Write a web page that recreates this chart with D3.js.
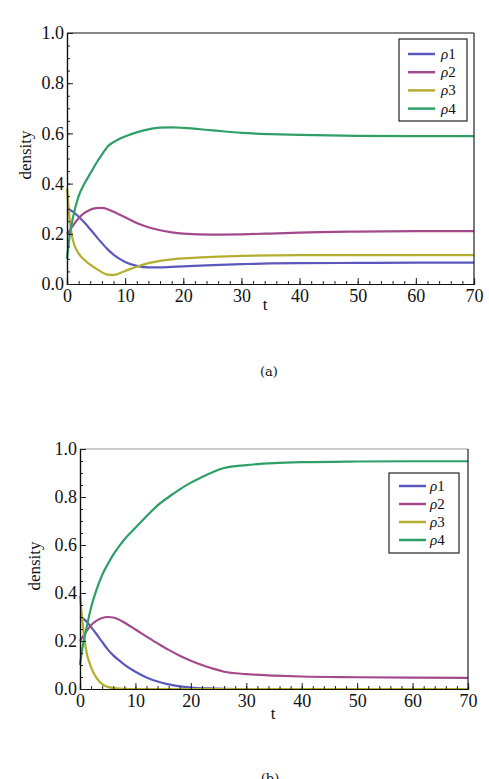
<!DOCTYPE html>
<html>
<head>
<meta charset="utf-8">
<script src="https://cdn.jsdelivr.net/npm/d3@7"></script>
<style>
  body { margin: 0; background: #fff; }
  svg { display: block; }
  text { font-family: "Liberation Serif", "DejaVu Serif", serif; fill: #111; }
</style>
</head>
<body>
<svg id="main" width="489" height="779"></svg>
<script>
// ---- data ----
var seriesNames = ["ρ1", "ρ2", "ρ3", "ρ4"];
var seriesColors = ["#5a58bc", "#a24a8c", "#b3ae30", "#2f9f68"];
var xTicks = [0, 10, 20, 30, 40, 50, 60, 70];
var yTicks = [0, 0.2, 0.4, 0.6, 0.8, 1.0];

// panel (a)
var tA = [0, 0.5, 1, 2, 3, 4, 5, 6, 7, 8, 10, 12, 14, 16, 18, 20, 25, 30, 35, 40, 50, 60, 70];
var rho1A = [0.30, 0.295, 0.288, 0.268, 0.245, 0.218, 0.19, 0.163, 0.138, 0.117, 0.088, 0.072, 0.066, 0.066, 0.068, 0.07, 0.075, 0.079, 0.082, 0.083, 0.084, 0.085, 0.085];
var rho2A = [0.20, 0.215, 0.232, 0.262, 0.283, 0.296, 0.302, 0.303, 0.298, 0.288, 0.266, 0.243, 0.226, 0.214, 0.206, 0.201, 0.197, 0.198, 0.201, 0.205, 0.209, 0.211, 0.211];
var rho3A = [0.38, 0.25, 0.175, 0.122, 0.096, 0.077, 0.061, 0.047, 0.037, 0.036, 0.052, 0.069, 0.083, 0.092, 0.098, 0.102, 0.108, 0.112, 0.114, 0.115, 0.115, 0.115, 0.115];
var rho4A = [0.10, 0.20, 0.262, 0.35, 0.40, 0.44, 0.48, 0.515, 0.548, 0.565, 0.588, 0.604, 0.616, 0.623, 0.624, 0.622, 0.612, 0.602, 0.597, 0.594, 0.59, 0.589, 0.589];

// panel (b)
var tB = [0, 0.5, 1, 2, 3, 4, 5, 6, 7, 8, 10, 12, 14, 16, 18, 20, 22, 24, 26, 30, 35, 40, 50, 60, 70];
var rho1B = [0.30, 0.294, 0.285, 0.258, 0.228, 0.196, 0.165, 0.14, 0.12, 0.102, 0.072, 0.048, 0.031, 0.019, 0.011, 0.006, 0.003, 0.002, 0.001, 0, 0, 0, 0, 0, 0];
var rho2B = [0.20, 0.218, 0.236, 0.266, 0.285, 0.296, 0.30, 0.298, 0.29, 0.277, 0.248, 0.218, 0.19, 0.163, 0.139, 0.118, 0.10, 0.085, 0.072, 0.062, 0.056, 0.052, 0.049, 0.047, 0.046];
var rho3B = [0.39, 0.27, 0.175, 0.09, 0.045, 0.02, 0.009, 0.004, 0.002, 0.001, 0, 0, 0, 0, 0, 0, 0, 0, 0, 0, 0, 0, 0, 0, 0];
var rho4B = [0.10, 0.18, 0.235, 0.34, 0.415, 0.475, 0.52, 0.56, 0.593, 0.623, 0.672, 0.72, 0.765, 0.80, 0.832, 0.86, 0.883, 0.904, 0.921, 0.933, 0.941, 0.945, 0.948, 0.949, 0.949];

var svg = d3.select("#main");

function styleAxis(a) {
  a.select(".domain").attr("stroke", "#111").attr("stroke-width", 1.2);
  a.selectAll(".tick line").attr("stroke", "#222");
  a.selectAll("text").style("font-size", "18px").attr("fill", "#111")
    .style("font-family", '"Liberation Serif", serif');
}

function drawPanel(cfg) {
  var x = d3.scaleLinear().domain([0, 70]).range([cfg.left, cfg.right]);
  var y = d3.scaleLinear().domain([0, 1]).range([cfg.bottom, cfg.top]);
  var g = svg.append("g");

  // curves
  var line = d3.line()
      .x(function(d) { return x(d[0]); })
      .y(function(d) { return y(d[1]); })
      .curve(d3.curveMonotoneX);
  cfg.series.forEach(function(vals, i) {
    var pts = cfg.t.map(function(t, j) { return [t, vals[j]]; });
    g.append("path")
      .attr("d", line(pts))
      .attr("fill", "none")
      .attr("stroke", seriesColors[i])
      .attr("stroke-width", 2.2)
      .attr("stroke-linejoin", "round");
  });

  // frame
  g.append("line").attr("x1", cfg.left).attr("x2", cfg.right).attr("y1", cfg.top).attr("y2", cfg.top)
    .attr("stroke", cfg.topColor).attr("stroke-width", 1.2);
  g.append("line").attr("x1", cfg.right).attr("x2", cfg.right).attr("y1", cfg.top).attr("y2", cfg.bottom)
    .attr("stroke", "#222").attr("stroke-width", 1.2);

  // axes with inward ticks
  var xAxis = d3.axisBottom(x).tickValues(xTicks).tickSize(-6).tickPadding(5).tickFormat(d3.format("d"));
  var xMinor = d3.axisBottom(x).tickValues(d3.range(0, 71, 2)).tickSize(-3).tickFormat("");
  var yAxis = d3.axisLeft(y).tickValues(yTicks).tickSize(-6).tickPadding(3).tickFormat(d3.format(".1f"));
  var yMinor = d3.axisLeft(y).tickValues(d3.range(0, 1.001, 0.05)).tickSize(-3).tickFormat("");

  [xMinor, xAxis].forEach(function(ax) {
    styleAxis(g.append("g").attr("transform", "translate(0," + cfg.bottom + ")").call(ax));
  });
  [yMinor, yAxis].forEach(function(ax) {
    styleAxis(g.append("g").attr("transform", "translate(" + cfg.left + ",0)").call(ax));
  });

  // axis labels
  g.append("text").attr("x", cfg.tx).attr("y", cfg.ty)
    .attr("text-anchor", "middle").style("font-size", "17px").text("t");
  g.append("text")
    .attr("transform", "translate(" + cfg.dx + "," + cfg.dy + ") rotate(-90)")
    .attr("text-anchor", "middle").style("font-size", "17px").text("density");

  // legend
  var L = cfg.legend;
  g.append("rect").attr("x", L.x).attr("y", L.y).attr("width", L.w).attr("height", L.h)
    .attr("fill", "#fff").attr("stroke", "#222").attr("stroke-width", 1.2);
  seriesNames.forEach(function(name, i) {
    var ry = L.row0 + i * L.step;
    g.append("line").attr("x1", L.lx1).attr("x2", L.lx2).attr("y1", ry).attr("y2", ry)
      .attr("stroke", seriesColors[i]).attr("stroke-width", 2.5);
    var txt = g.append("text").attr("x", L.tx).attr("y", ry + 5).style("font-size", "15px");
    txt.append("tspan").style("font-style", "italic").text(name.slice(0, 1));
    txt.append("tspan").text(name.slice(1));
  });

  // caption
  svg.append("text").attr("x", cfg.capX).attr("y", cfg.capY)
    .attr("text-anchor", "middle").style("font-size", "13px").attr("fill", "#444")
    .style("font-family", '"DejaVu Serif", serif').text(cfg.caption);
}

drawPanel({
  left: 67, right: 474, top: 33, bottom: 284,
  t: tA, series: [rho1A, rho2A, rho3A, rho4A], topColor: "#111",
  tx: 265, ty: 310, dx: 31, dy: 155,
  legend: { x: 399, y: 39, w: 68, h: 82, row0: 54, step: 18.2, lx1: 408, lx2: 435, tx: 441 },
  capX: 269, capY: 376, caption: "(a)"
});

drawPanel({
  left: 80, right: 468, top: 449, bottom: 689,
  t: tB, series: [rho1B, rho2B, rho3B, rho4B], topColor: "#999",
  tx: 273, ty: 719, dx: 40, dy: 566,
  legend: { x: 389, y: 473, w: 70, h: 80, row0: 486, step: 18, lx1: 399, lx2: 426, tx: 430 },
  capX: 270, capY: 783, caption: "(b)"
});
</script>
</body>
</html>
